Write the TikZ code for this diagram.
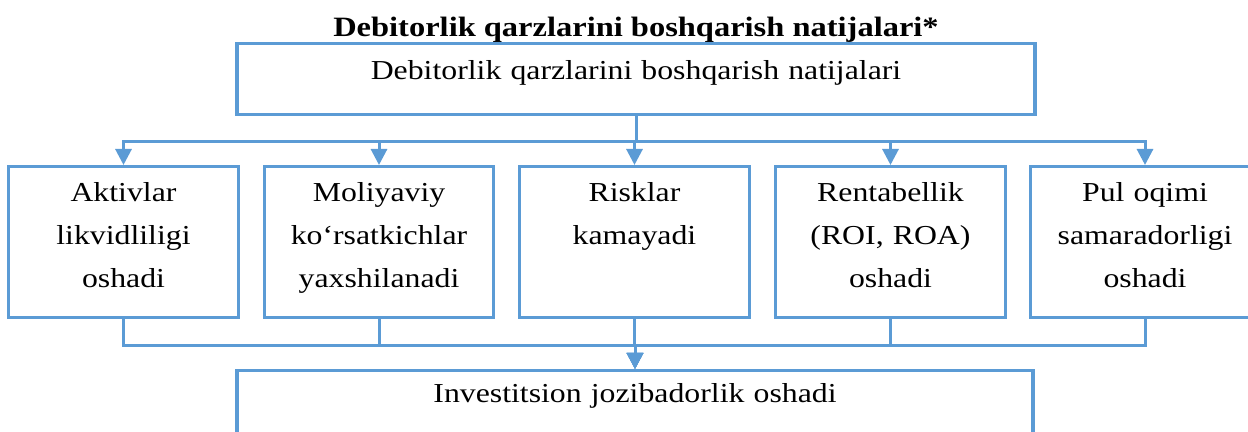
\documentclass[tikz,border=0pt]{standalone}
\usepackage{fontspec}
\setmainfont{Liberation Serif}[FakeStretch=1.16]
\usepackage{tikz}
\usetikzlibrary{arrows.meta,positioning}
\definecolor{bxBlue}{HTML}{5B9BD5}
\tikzset{
  box/.style   = {draw=bxBlue, line width=1.6pt, fill=white, align=center,
                  font=\fontsize{13.7}{21.5}\selectfont, text height=10pt},
  res/.style   = {box, minimum width=113.5pt, text width=108pt,
                  inner ysep=7.6pt, text depth=50.3pt},
  link/.style  = {draw=bxBlue, line width=1.5pt},
  arr/.style   = {link, -{Triangle[length=8pt,width=8pt]}},
  hd/.style    = {font=\bfseries\fontsize{14}{16}\selectfont, inner sep=0pt},
}
\begin{document}
\begin{tikzpicture}[x=0.5pt, y=-0.5pt]
\useasboundingbox (0,0) rectangle (1248,432);
\clip (0,0) rectangle (1248,432);

\node[hd, anchor=base] (title) at (636,36.5) {Debitorlik qarzlarini boshqarish natijalari*};

% top box
\node[box, anchor=north, minimum width=399pt, text width=390pt,
      inner ysep=8pt, text depth=9.5pt] (top) at (636,42)
  {Debitorlik qarzlarini boshqarish natijalari};

% five results
\node[res, anchor=north] (res1) at (123.5,165) {Aktivlar\\likvidliligi\\oshadi};
\node[res, anchor=north] (res2) at (379,165)   {Moliyaviy\\ko‘rsatkichlar\\yaxshilanadi};
\node[res, anchor=north] (res3) at (634.5,165) {Risklar\\kamayadi};
\node[res, anchor=north] (res4) at (890.5,165) {Rentabellik\\(ROI, ROA)\\oshadi};
\node[res, anchor=north] (res5) at (1145,165)  {Pul oqimi\\samaradorligi\\oshadi};

% bottom box
\node[box, anchor=north, minimum width=398pt, text width=390pt,
      inner ysep=6pt, text depth=18pt] (inv) at (635,369)
  {Investitsion jozibadorlik oshadi};

% top -> results
\foreach \i in {1,...,5}
  \draw[arr] (top.south) -- ++(0,25) -| (res\i.north);

% results -> bottom
\foreach \i in {1,...,5}
  \draw[arr] (res\i.south) -- ++(0,26) -| (inv.north);

\end{tikzpicture}
\end{document}
